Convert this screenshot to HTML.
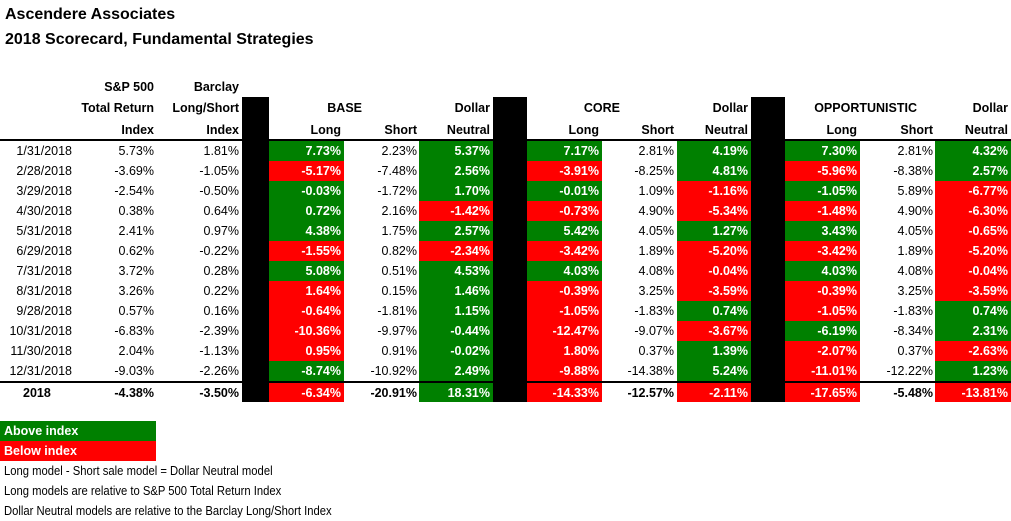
<!DOCTYPE html>
<html><head><meta charset="utf-8"><style>
html,body{margin:0;padding:0;background:#fff;}
#root{position:relative;width:1011px;height:521px;overflow:hidden;font-family:"Liberation Sans",Arial,sans-serif;font-size:12.5px;color:#000;}
.t{position:absolute;white-space:nowrap;line-height:20px;height:20px;}
.b{font-weight:bold;}
.cell{position:absolute;}
.fn{transform:scaleX(0.9);transform-origin:0 0;}
</style></head><body>
<div id="root">
<div class="t b" style="left:5px;top:5px;font-size:16px;">Ascendere Associates</div>
<div class="t b" style="left:5px;top:30px;font-size:16px;">2018 Scorecard, Fundamental Strategies</div>
</div>
<script>
const dates=["1/31/2018","2/28/2018","3/29/2018","4/30/2018","5/31/2018","6/29/2018","7/31/2018","8/31/2018","9/28/2018","10/31/2018","11/30/2018","12/31/2018","2018"];
const spIndex=[5.73,-3.69,-2.54,0.38,2.41,0.62,3.72,3.26,0.57,-6.83,2.04,-9.03,-4.38];
const barclayIndex=[1.81,-1.05,-0.50,0.64,0.97,-0.22,0.28,0.22,0.16,-2.39,-1.13,-2.26,-3.50];
const baseLong=[7.73,-5.17,-0.03,0.72,4.38,-1.55,5.08,1.64,-0.64,-10.36,0.95,-8.74,-6.34];
const baseShort=[2.23,-7.48,-1.72,2.16,1.75,0.82,0.51,0.15,-1.81,-9.97,0.91,-10.92,-20.91];
const baseDN=[5.37,2.56,1.70,-1.42,2.57,-2.34,4.53,1.46,1.15,-0.44,-0.02,2.49,18.31];
const coreLong=[7.17,-3.91,-0.01,-0.73,5.42,-3.42,4.03,-0.39,-1.05,-12.47,1.80,-9.88,-14.33];
const coreShort=[2.81,-8.25,1.09,4.90,4.05,1.89,4.08,3.25,-1.83,-9.07,0.37,-14.38,-12.57];
const coreDN=[4.19,4.81,-1.16,-5.34,1.27,-5.20,-0.04,-3.59,0.74,-3.67,1.39,5.24,-2.11];
const oppLong=[7.30,-5.96,-1.05,-1.48,3.43,-3.42,4.03,-0.39,-1.05,-6.19,-2.07,-11.01,-17.65];
const oppShort=[2.81,-8.38,5.89,4.90,4.05,1.89,4.08,3.25,-1.83,-8.34,0.37,-12.22,-5.48];
const oppDN=[4.32,2.57,-6.77,-6.30,-0.65,-5.20,-0.04,-3.59,0.74,2.31,-2.63,1.23,-13.81];
const totalDNOverride={core:"R"};

const root=document.getElementById('root');
const G="#008000",R="#ff0000";
function rowTop(i){return i<12?141+20*i:383;}
function txt(s,right,top,bold,name,color){
  const d=document.createElement('div');
  d.className='t'+(bold?' b':'');
  d.textContent=s;
  d.style.right=(1011-right)+'px';d.style.top=top+'px';
  if(color)d.style.color=color;
  
  
  root.appendChild(d);return d;
}
function box(l,t,w,h,bg,name){
  const d=document.createElement('div');
  d.className='cell';
  d.style.left=l+'px';d.style.top=t+'px';d.style.width=w+'px';d.style.height=h+'px';d.style.background=bg;
  
  
  root.appendChild(d);return d;
}
function pct(v){return v.toFixed(2)+'%';}
box(0,139,1011,2,'#000','header-rule');
box(0,381,1011,2,'#000','total-rule');
const hy=[77,98,120];
txt('S&P 500',154,hy[0],true,'sp-header');
txt('Total Return',154,hy[1],true,'sp-header');
txt('Index',154,hy[2],true,'sp-header');
txt('Barclay',239,hy[0],true,'barclay-header');
txt('Long/Short',239,hy[1],true,'barclay-header');
txt('Index',239,hy[2],true,'barclay-header');
const groups=[
 {key:'base',label:'BASE',labelR:362,L:[269,344],S:417,D:[419,493],long:baseLong,short:baseShort,dn:baseDN},
 {key:'core',label:'CORE',labelR:620,L:[527,602],S:674,D:[677,751],long:coreLong,short:coreShort,dn:coreDN},
 {key:'opp',label:'OPPORTUNISTIC',labelR:917,L:[785,860],S:933,D:[935,1011],long:oppLong,short:oppShort,dn:oppDN}
];
groups.forEach(g=>{
  txt(g.label,g.labelR,hy[1],true,g.key+'-header');
  txt('Long',g.L[1]-3,hy[2],true,g.key+'-long-header');
  txt('Short',g.S,hy[2],true,g.key+'-short-header');
  txt('Dollar',g.D[1]-3,hy[1],true,g.key+'-dn-header');
  txt('Neutral',g.D[1]-3,hy[2],true,g.key+'-dn-header');
});
for(let i=0;i<dates.length;i++){
  const top=rowTop(i),tot=i===12,h=tot?19:20;
  if(tot){const d=txt(dates[i],0,top,true,'total-year-label');d.style.right='';d.style.left='23px';}
  else txt(dates[i],72,top,false,'date-label');
  txt(pct(spIndex[i]),154,top,tot,'sp-value');
  txt(pct(barclayIndex[i]),239,top,tot,'barclay-value');
  groups.forEach(g=>{
    const lc=g.long[i]>spIndex[i]?G:R;
    let dc=g.dn[i]>barclayIndex[i]?G:R;
    if(tot&&totalDNOverride[g.key])dc=totalDNOverride[g.key]==='R'?R:G;
    box(g.L[0],top,g.L[1]-g.L[0],h,lc,g.key+'-long-cell');
    txt(pct(g.long[i]),g.L[1]-3,top,true,g.key+'-long-value','#fff');
    txt(pct(g.short[i]),g.S,top,tot,g.key+'-short-value');
    box(g.D[0],top,g.D[1]-g.D[0],h,dc,g.key+'-dn-cell');
    txt(pct(g.dn[i]),g.D[1]-3,top,true,g.key+'-dn-value','#fff');
  });
}
box(242,97,27,305,'#000','separator-bar');
box(493,97,34,305,'#000','separator-bar');
box(751,97,34,305,'#000','separator-bar');
box(0,421,156,20,G,'legend-above');
box(0,441,156,20,R,'legend-below');
const la=txt('Above index',0,421,true,'legend-above-label','#fff');la.style.right='';la.style.left='4px';
const lb=txt('Below index',0,441,true,'legend-below-label','#fff');lb.style.right='';lb.style.left='4px';
const notes=['Long model - Short sale model = Dollar Neutral model','Long models are relative to S&P 500 Total Return Index','Dollar Neutral models are relative to the Barclay Long/Short Index'];
notes.forEach((n,k)=>{const d=txt(n,0,461+20*k,false,'footnote');d.style.right='';d.style.left='4px';d.classList.add('fn');});
</script>
</body></html>
